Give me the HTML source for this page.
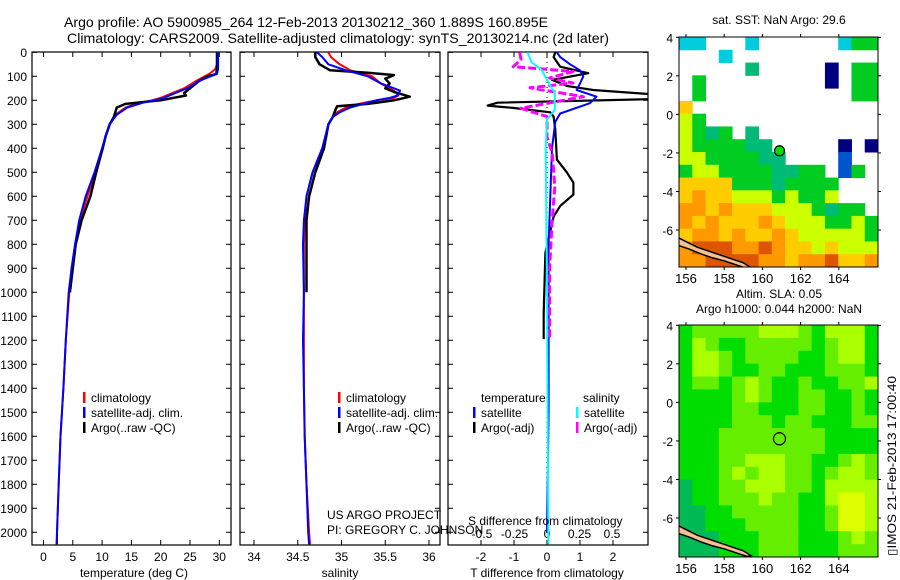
<!DOCTYPE html>
<html><head><meta charset="utf-8"><style>
html,body{margin:0;padding:0;background:#fff;}
svg{display:block;font-family:"Liberation Sans",Arial,sans-serif;}
</style></head><body>
<svg id="fig" width="900" height="580" viewBox="0 0 900 580" xmlns="http://www.w3.org/2000/svg">
<defs>
<clipPath id="c1"><rect x="32" y="52" width="199" height="493"/></clipPath>
<clipPath id="c2"><rect x="240" y="52" width="200" height="493"/></clipPath>
<clipPath id="c3"><rect x="448" y="52" width="200" height="493"/></clipPath>
<clipPath id="cm1"><rect x="679" y="37" width="199" height="230"/></clipPath>
<clipPath id="cm2"><rect x="679" y="325" width="199" height="232"/></clipPath>
</defs>
<text x="64" y="27" font-size="14" textLength="484" lengthAdjust="spacingAndGlyphs">Argo profile: AO 5900985_264 12-Feb-2013 20130212_360 1.889S 160.895E</text>
<text x="67" y="43" font-size="14" textLength="542" lengthAdjust="spacingAndGlyphs">Climatology: CARS2009. Satellite-adjusted climatology: synTS_20130214.nc (2d later)</text>
<g id="g1"></g>
<g id="g2"></g>
<g id="g3"></g>
<g id="m1"></g>
<g id="m2"></g>
<text x="327" y="519" font-size="12">US ARGO PROJECT</text>
<text x="327" y="534" font-size="12">PI: GREGORY C. JOHNSON</text>
<text transform="translate(896,556) rotate(-90)" font-size="12" textLength="180" lengthAdjust="spacingAndGlyphs">▯IMOS 21-Feb-2013 17:00:40</text>
</svg>
<script>
// ---- profile data ----
const tP=[0,50,70,90,100,120,150,170,190,200,210,230,260,300,350,400,500,600,700,800,900,1000,1200,1400,1600,1800,2000,2050];
const tClim=[29.6,29.6,29.3,28.3,27.5,26,24,22,20,18.5,16.5,14,12.3,11.3,10.6,10,8.8,7.5,6.2,5.4,4.8,4.4,3.8,3.4,2.9,2.6,2.3,2.2];
const tSat=[29.8,29.8,29.8,29.6,28.5,26.5,24.5,22.5,20.5,19,17,14.3,12.5,11.3,10.6,10,8.7,7.2,6.1,5.4,4.8,4.3,3.8,3.4,2.9,2.6,2.3,2.3];
const tArgoP=[0,20,60,90,100,120,150,170,180,200,215,230,270,300,350,400,500,600,700,800,900,1000];
const tArgo=[29.6,29.6,29.6,29.5,28,26.5,25,24,24.3,20,14,12.5,12,11.3,10.6,10.1,9,8,6.5,5.5,5,4.5];
const sP=[0,20,50,75,90,100,130,150,160,180,190,200,215,230,250,270,300,400,500,600,700,800,1000,1200,1400,1600,1800,2000,2050];
const sClim=[34.85,34.88,34.98,35.1,35.25,35.35,35.45,35.55,35.6,35.65,35.6,35.4,35.2,35.05,34.95,34.9,34.85,34.78,34.67,34.6,34.58,34.57,34.57,34.57,34.57,34.58,34.6,34.63,34.64];
const sSat=[34.72,34.78,34.85,35.05,35.2,35.3,35.45,35.6,35.67,35.64,35.55,35.4,35.25,35.1,34.98,34.9,34.85,34.78,34.67,34.6,34.57,34.56,34.57,34.56,34.57,34.58,34.6,34.62,34.63];
const sArgoP=[0,20,50,75,85,95,110,130,150,165,185,200,215,225,240,270,300,400,500,600,700,800,1000];
const sArgo=[34.7,34.7,34.75,34.87,35.3,35.6,35.5,35.55,35.5,35.6,35.78,35.6,35.3,34.95,34.93,34.9,34.85,34.8,34.7,34.63,34.6,34.6,34.6];
const dTP=[0,20,50,75,100,130,157,185,212,255,290,400,600,800,1000,1200,1500,2000];
const dTSat=[0.3,0.4,0.7,1.0,1.1,1.0,0.9,1.5,1.3,0.4,0.25,0.15,0.1,0.05,0.05,0.05,0.05,0.0];
const dTArgoP=[0,20,40,60,87,115,140,157,175,195,210,222,232,250,268,323,447,500,543,593,640,685,835,1088,1195];
const dTArgo=[0.25,0.2,0.3,0.4,1.25,0.15,0.6,1.4,3.2,3.2,-1.5,-1.8,-1.0,0.1,0.2,0.25,0.3,0.6,0.8,0.8,0.4,0.2,-0.05,-0.1,-0.1];
const dSSatP=[0,40,74,115,170,240,280,400,1000,2000,2050];
const dSSat=[-0.15,-0.12,-0.04,0.0,0.06,0.06,0.0,-0.01,0.0,0.01,0.01];
const dSArgoP=[0,30,60,80,107,128,148,185,233,268,352,420,560,700,900,1195];
const dSArgo=[-0.21,-0.2,-0.26,0.2,0.02,0.2,-0.13,0.28,-0.2,0,0,0.04,0.06,0.04,0.02,0.02];
const pTicks=[0,100,200,300,400,500,600,700,800,900,1000,1100,1200,1300,1400,1500,1600,1700,1800,1900,2000];
const tTicks=[0,5,10,15,20,25,30];
const sTicks=[34,34.5,35,35.5,36];
const sTickLabels=["34","34.5","35","35.5","36"];
const dTTicks=[-2,-1,0,1,2];
const dSTicks=[-0.5,-0.25,0,0.25,0.5];
const dSTickLabels=["-0.5","-0.25","0","0.25","0.5"];
// ---- map data (codes per cell, 15 cols x 18 rows) ----
const sstRows=["cc...c......cgg","...c...........",".....G.....b.gg",".g.........b.gg",".g...........gg","Y..............","yg.............","ygGg.G.........","yggggGG.....b.b","yyggggGG....B..","gyyggggGGgg.Bg.","YYYYgggGgggg...","YoYYyyygyggy...","ooYoYYYyyygGgg.","oYoYYYoYyyyggyg","YooYoYYoYyyyyyg","orrrooroYYyYyyy","oorrrrooYoorYYo"];
const slaRows=["glllllyyylgyyyg","gylgglllllglyyg","gyylgllllgglyyg","gyylggllggglllg","gllglylgglgglly","gggglylggllgglg","ggggllgggllgglg","gggglllgllgggll","gggllllllllgggg","gggllllllllgggg","gggllyyyllgglyl","ggglylyyllglyyl","tggllyyyllgyyyy","tgglllyllggyYYy","ttgglllllgglYYy","ttgggllllgglYYy","tttggglllggglyl","tttggglllggglll"];
const mapLatTicks=[4,2,0,-2,-4,-6];
const mapLonTicks=[156,158,160,162,164];
const argoLon=160.895, argoLat=-1.889;
const coastLon=[155.6,156.0,156.6,157.2,157.8,158.4,159.0,159.4,159.2,158.6,158.0,157.4,156.8,156.2,155.6];
const coastLat=[-6.4,-6.6,-6.9,-7.1,-7.3,-7.5,-7.7,-7.95,-8.0,-7.8,-7.6,-7.45,-7.25,-7.0,-6.8];

const NS="http://www.w3.org/2000/svg";
function mk(tag,attrs,parent){const e=document.createElementNS(NS,tag);for(const k in attrs)e.setAttribute(k,attrs[k]);parent.appendChild(e);return e;}
const yP=p=>52.3+p*0.24;
const xT=t=>43.5+t*5.86;
const xS=s=>254+(s-34)*87.5;
const xdT=d=>547+d*33;
const xdS=d=>547+d*130;

function line(g,xs,ps,fx,col,w,clip,name,dash){
  const pts=xs.map((v,i)=>fx(v).toFixed(1)+","+yP(ps[i]).toFixed(1)).join(" ");
  const a={points:pts,fill:"none",stroke:col,"stroke-width":w,"clip-path":"url(#"+clip+")","stroke-linejoin":"round"};
  if(dash)a["stroke-dasharray"]=dash;
  const e=mk("polyline",a,g);
  
  
}
function frame(g,x0,w,name){
  const r=mk("rect",{x:x0,y:52,width:w,height:493,fill:"none",stroke:"#000","stroke-width":1.2},g);
  
  
  pTicks.forEach(p=>{const y=yP(p);mk("line",{x1:x0,y1:y,x2:x0+5,y2:y,stroke:"#000"},g);mk("line",{x1:x0+w-5,y1:y,x2:x0+w,y2:y,stroke:"#000"},g);});
}
function xticks(g,vals,labels,fx,y,top){
  vals.forEach((v,i)=>{const x=fx(v);
    mk("line",{x1:x,y1:545,x2:x,y2:540,stroke:"#000"},g);
    if(top)mk("line",{x1:x,y1:52,x2:x,y2:57,stroke:"#000"},g);
    const t=mk("text",{x:x,y:y,"font-size":12,"text-anchor":"middle"},g);t.textContent=labels[i];
    
    
  });
}
function legendItem(g,x,y,col,label){
  mk("rect",{x:x,y:y-10,width:2.5,height:11,fill:col},g);
  const t=mk("text",{x:x+8,y:y,"font-size":12},g);t.textContent=label;
  
  
}
function label(g,x,y,txt,anchor,name){
  const t=mk("text",{x:x,y:y,"font-size":12,"text-anchor":anchor||"middle"},g);t.textContent=txt;
  
  
}
// panel 1
const g1=document.getElementById("g1");
frame(g1,32,199,"temperature-frame");
pTicks.forEach(p=>label(g1,27,yP(p)+4.5,String(p),"end","y-tick-label"));
xticks(g1,tTicks,tTicks.map(String),xT,561,true);
line(g1,tClim,tP,xT,"#ff0000",2,"c1","temp-climatology-line");
line(g1,tArgo,tArgoP,xT,"#000",2.5,"c1","temp-argo-line");
line(g1,tSat,tP,xT,"#0000ff",2,"c1","temp-satellite-line");
label(g1,134,577,"temperature (deg C)","middle","x-axis-title-temperature");
legendItem(g1,83,402,"#ff0000","climatology");
legendItem(g1,83,417,"#0000ff","satellite-adj. clim.");
legendItem(g1,83,432,"#000","Argo(..raw -QC)");
// panel 2
const g2=document.getElementById("g2");
frame(g2,240,200,"salinity-frame");
xticks(g2,sTicks,sTickLabels,xS,561,true);
line(g2,sClim,sP,xS,"#ff0000",2,"c2","sal-climatology-line");
line(g2,sArgo,sArgoP,xS,"#000",2.5,"c2","sal-argo-line");
line(g2,sSat,sP,xS,"#0000ff",2,"c2","sal-satellite-line");
label(g2,340,577,"salinity","middle","x-axis-title-salinity");
legendItem(g2,338,402,"#ff0000","climatology");
legendItem(g2,338,417,"#0000ff","satellite-adj. clim.");
legendItem(g2,338,432,"#000","Argo(..raw -QC)");
// panel 3
const g3=document.getElementById("g3");
frame(g3,448,200,"difference-frame");
xticks(g3,dTTicks,dTTicks.map(String),xdT,561,true);
dSTicks.forEach((v,i)=>label(g3,xdS(v),538,dSTickLabels[i],"middle","s-tick-label"));
mk("line",{x1:547,y1:52,x2:547,y2:545,stroke:"#000","stroke-dasharray":"1,4"},g3);
line(g3,dTArgo,dTArgoP,xdT,"#000",2.2,"c3","dT-argo-line");
line(g3,dTSat,dTP,xdT,"#0000ff",2,"c3","dT-satellite-line");
line(g3,dSArgo,dSArgoP,xdS,"#ff00ff",3,"c3","dS-argo-line","8,3");
line(g3,dSSat,dSSatP,xdS,"#00ffff",2,"c3","dS-satellite-line");
label(g3,547,577,"T difference from climatology","middle","x-axis-title-T-diff");
label(g3,468,525,"S difference from climatology","start","x-axis-title-S-diff");
label(g3,481,402,"temperature","start","legend-heading-temperature");
label(g3,583,402,"salinity","start","legend-heading-salinity");
legendItem(g3,473,417,"#0000ff","satellite");
legendItem(g3,473,432,"#000","Argo(-adj)");
legendItem(g3,576,417,"#00ffff","satellite");
legendItem(g3,576,432,"#ff00ff","Argo(-adj)");
// maps
const sstCol={c:"#00ccdd",G:"#00bb77",g:"#00cc22",y:"#ccff00",Y:"#ffcc00",o:"#ff9900",r:"#dd5500",b:"#000080",B:"#0055cc"};
const slaCol={g:"#00dd00",l:"#66ee00",y:"#aaff00",Y:"#ddff00",t:"#00bb55"};
function drawMap(id,y0,h,rows,cols,clip,title1,title2,filled){
  const g=document.getElementById(id);
  const x0=679,w=199;
  const lonX=lon=>686+(lon-156)*19.1;
  const latY=lat=>y0+0.3+(4-lat)*19.27;
  const cw=w/15,ch=h/18;
  rows.forEach((row,r)=>{for(let c=0;c<row.length;c++){const k=row[c];if(!cols[k])continue;
    const e=mk("rect",{x:(x0+c*cw).toFixed(2),y:(y0+r*ch).toFixed(2),width:(cw+0.5).toFixed(2),height:(ch+0.5).toFixed(2),fill:cols[k]},g);
    
    }});
  const cp=coastLon.map((l,i)=>lonX(l).toFixed(1)+","+latY(coastLat[i]).toFixed(1)).join(" ");
  const coast=mk("polygon",{points:cp,fill:"#f5c090",stroke:"#000","stroke-width":1.5,"clip-path":"url(#"+clip+")"},g);
  
  
  const fr=mk("rect",{x:x0,y:y0,width:w,height:h,fill:"none",stroke:"#000"},g);
  
  
  mapLatTicks.forEach(l=>{const y=latY(l);
    mk("line",{x1:x0-3,y1:y,x2:x0,y2:y,stroke:"#000"},g);mk("line",{x1:x0+w,y1:y,x2:x0+w+3,y2:y,stroke:"#000"},g);
    label(g,x0-6,y+5,String(l),"end","map-lat-label");});
  mapLonTicks.forEach(l=>{const x=lonX(l);
    mk("line",{x1:x,y1:y0+h,x2:x,y2:y0+h+3,stroke:"#000"},g);mk("line",{x1:x,y1:y0-3,x2:x,y2:y0,stroke:"#000"},g);
    const t=mk("text",{x:x,y:y0+h+16,"font-size":13,"text-anchor":"middle"},g);t.textContent=String(l);
    
    });
  const m=mk("circle",{cx:lonX(argoLon),cy:latY(argoLat),r:filled?5:6,fill:filled?"#00dd00":"none",stroke:"#000","stroke-width":1.2},g);
  
  
  label(g,779,y0-(title2?27:13),title1,"middle","map-title");
  if(title2)label(g,779,y0-12,title2,"middle","map-subtitle");
}
drawMap("m1",37,230,sstRows,sstCol,"cm1","sat. SST: NaN Argo: 29.6",null,true);
drawMap("m2",325,232,slaRows,slaCol,"cm2","Altim. SLA: 0.05","Argo h1000: 0.044 h2000: NaN",false);
</script>
</body></html>
